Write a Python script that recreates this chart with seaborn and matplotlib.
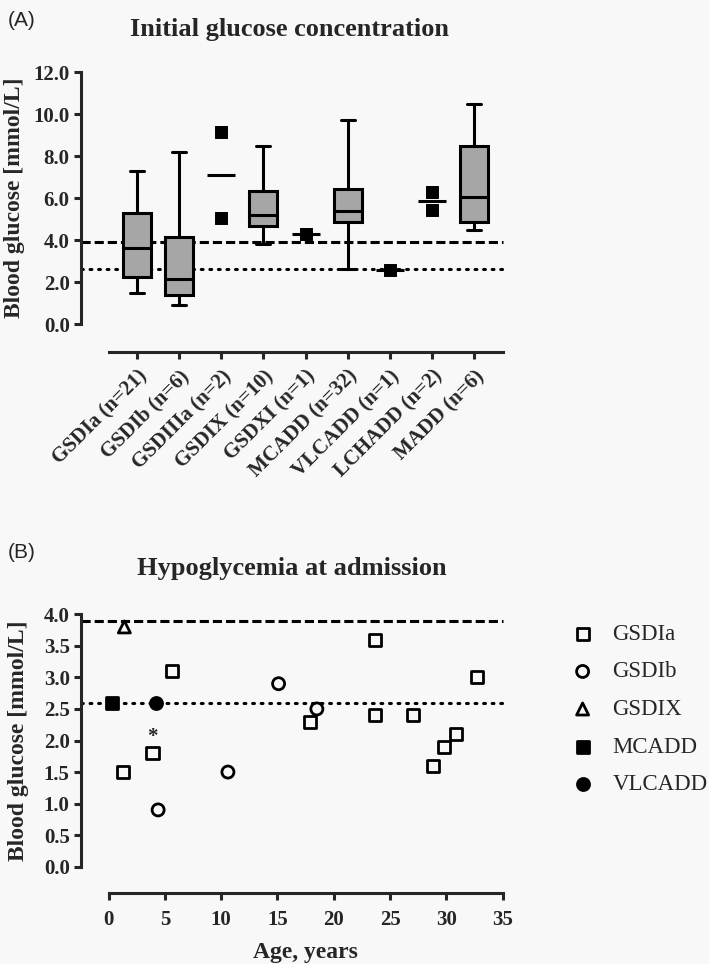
import numpy as np
import pandas as pd
import matplotlib
matplotlib.use("Agg")
import matplotlib.pyplot as plt
import seaborn as sns

sns.set_style("ticks")
plt.rcParams["font.family"] = ["Liberation Serif", "DejaVu Serif"]
plt.rcParams["axes.linewidth"] = 2.2

# ---------------- Panel A data ----------------
groups = ["GSDIa (n=21)", "GSDIb (n=6)", "GSDIIIa (n=2)", "GSDIX (n=10)", "GSDXI (n=1)",
          "MCADD (n=32)", "VLCADD (n=1)", "LCHADD (n=2)", "MADD (n=6)"]

# groups drawn as box plots (summary values)
box_groups = ["GSDIa (n=21)", "GSDIb (n=6)", "GSDIX (n=10)", "MCADD (n=32)", "MADD (n=6)"]
whis_low = [1.5, 0.9, 3.8, 2.6, 4.5]
q1 = [2.25, 1.38, 4.65, 4.87, 4.85]
median = [3.6, 2.13, 5.18, 5.4, 6.03]
q3 = [5.3, 4.15, 6.33, 6.45, 8.5]
whis_high = [7.3, 8.2, 8.5, 9.7, 10.5]

# small groups drawn as single values plus mean line
small_groups = ["GSDIIIa (n=2)", "GSDIIIa (n=2)", "GSDXI (n=1)", "VLCADD (n=1)",
                "LCHADD (n=2)", "LCHADD (n=2)"]
small_values = [9.15, 5.05, 4.27, 2.58, 5.45, 6.27]

upper_ref = 3.9   # dashed
lower_ref = 2.6   # dotted

# ---------------- Panel B data ----------------
age_gsdia = [1.3, 3.9, 5.6, 17.9, 23.7, 23.7, 27.0, 28.8, 29.8, 30.9, 32.7]
bg_gsdia = [1.5, 1.8, 3.1, 2.3, 3.6, 2.4, 2.4, 1.6, 1.9, 2.1, 3.0]
age_gsdib = [4.4, 10.6, 15.1, 18.5]
bg_gsdib = [0.9, 1.5, 2.9, 2.5]
age_gsdix = [1.4]
bg_gsdix = [3.8]
age_mcadd = [0.3]
bg_mcadd = [2.6]
age_vlcadd = [4.2]
bg_vlcadd = [2.6]
starred = 1  # index in GSDIa marked with *

box_color = "#a6a6a6"
bg = "#f8f8f8"
tick_fs = 15

fig = plt.figure(figsize=(7.09, 9.64), dpi=100, facecolor=bg)


def ref_lines(ax):
    ax.axhline(upper_ref, xmin=-28 / 394, xmax=1, color="black", linewidth=2.2,
               linestyle=(0, (3, 1.3)), clip_on=False, zorder=1)
    ax.axhline(lower_ref, xmin=-28 / 394, xmax=1, color="black", linewidth=2.2,
               linestyle=(0, (0.6, 2.2)), dash_capstyle="round", clip_on=False, zorder=1)


# ======================= Panel A =======================
axA = fig.add_axes([108.6 / 709, 640 / 964, 394 / 709, 252 / 964])
axA.set_facecolor(bg)

stats = []
for i, g in enumerate(box_groups):
    stats.append(dict(label=g, whislo=whis_low[i], q1=q1[i], med=median[i],
                      q3=q3[i], whishi=whis_high[i], fliers=[]))
pos = [groups.index(g) for g in box_groups]
axA.bxp(stats, positions=pos, widths=0.66, patch_artist=True, showfliers=False,
        boxprops=dict(facecolor=box_color, edgecolor="black", linewidth=2.2),
        medianprops=dict(color="black", linewidth=2.2),
        whiskerprops=dict(color="black", linewidth=2.2),
        capprops=dict(color="black", linewidth=2.2), capwidths=0.33,
        manage_ticks=False)

small = pd.DataFrame({"group": small_groups, "value": small_values})
small["x"] = [groups.index(g) for g in small["group"]]
sns.scatterplot(data=small, x="x", y="value", marker="s", s=75, color="black",
                edgecolor="black", ax=axA, legend=False, zorder=3)
means = small.groupby("x")["value"].mean()
axA.hlines(means.values, means.index - 0.33, means.index + 0.33, color="black",
           linewidth=2.2, zorder=3)

ref_lines(axA)

axA.set_xlim(-0.67, 8.67)
axA.set_ylim(0, 12)
axA.set_yticks(np.arange(0, 12.1, 2))
axA.set_yticklabels([f"{v:.1f}" for v in np.arange(0, 12.1, 2)])
axA.set_xticks(range(len(groups)))
axA.set_xticklabels(groups)
sns.despine(ax=axA)
axA.spines["left"].set_position(("outward", 20))
axA.spines["bottom"].set_position(("outward", 20.5))
axA.tick_params(direction="out", length=5, width=2.2, labelsize=tick_fs, pad=3)
axA.tick_params(axis="x", labelrotation=45, pad=5)
for lab in axA.get_xticklabels():
    lab.set_ha("right")
    lab.set_rotation_mode("anchor")
for lab in axA.get_xticklabels() + axA.get_yticklabels():
    lab.set_fontweight("bold")
axA.set_ylabel("Blood glucose [mmol/L]", fontsize=17, fontweight="bold")
axA.yaxis.set_label_coords(-0.212, 0.5)
axA.set_xlabel("")
axA.set_title("Initial glucose concentration", fontsize=19, fontweight="bold",
              pad=26, x=0.46)

# ======================= Panel B =======================
axB = fig.add_axes([108.6 / 709, 97.3 / 964, 394 / 709, 252.4 / 964])
axB.set_facecolor(bg)

ref_lines(axB)

series = [
    ("GSDIa", age_gsdia, bg_gsdia, "s", "none"),
    ("GSDIb", age_gsdib, bg_gsdib, "o", "none"),
    ("GSDIX", age_gsdix, bg_gsdix, "^", "none"),
    ("MCADD", age_mcadd, bg_mcadd, "s", "black"),
    ("VLCADD", age_vlcadd, bg_vlcadd, "o", "black"),
]
for name, xs, ys, mk, fc in series:
    axB.scatter(xs, ys, marker=mk, s=75, facecolors=fc, edgecolors="black",
                linewidths=2.0, label=name, zorder=3, clip_on=False)

axB.annotate("*", (age_gsdia[starred], bg_gsdia[starred]), xytext=(0, 8),
             textcoords="offset points", ha="center", va="baseline",
             fontsize=15, fontweight="bold")

axB.set_xlim(0, 35)
axB.set_ylim(0, 4)
axB.set_xticks(np.arange(0, 36, 5))
axB.set_yticks(np.arange(0, 4.01, 0.5))
axB.set_yticklabels([f"{v:.1f}" for v in np.arange(0, 4.01, 0.5)])
sns.despine(ax=axB)
axB.spines["left"].set_position(("outward", 20))
axB.spines["bottom"].set_position(("outward", 19))
axB.tick_params(direction="out", length=5, width=2.2, labelsize=tick_fs, pad=3)
axB.tick_params(axis="x", pad=7)
for lab in axB.get_xticklabels() + axB.get_yticklabels():
    lab.set_fontweight("bold")
axB.set_ylabel("Blood glucose [mmol/L]", fontsize=17, fontweight="bold")
axB.yaxis.set_label_coords(-0.203, 0.5)
axB.set_xlabel("Age, years", fontsize=17, fontweight="bold", labelpad=9)
axB.set_title("Hypoglycemia at admission", fontsize=19, fontweight="bold",
              pad=28, x=0.465)

axB.legend(loc="upper left", bbox_to_anchor=(1.174, 0.962), frameon=False,
           fontsize=16.5, handlelength=1.0, handletextpad=0.8, labelspacing=0.72,
           borderpad=0, borderaxespad=0)

fig.text(8 / 709, 1 - 20 / 964, "(A)", fontsize=15, family="Liberation Sans", va="center")
fig.text(8 / 709, 1 - 552 / 964, "(B)", fontsize=15, family="Liberation Sans", va="center")

fig.savefig("out.png", dpi=100, facecolor=bg)
